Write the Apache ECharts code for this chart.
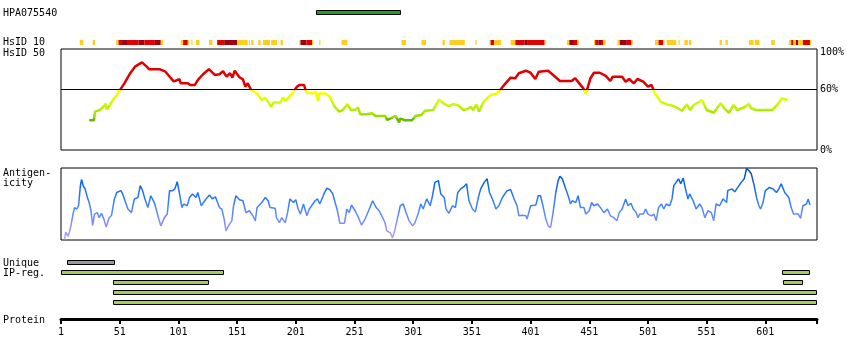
<!DOCTYPE html>
<html><head><meta charset="utf-8">
<script src="https://cdn.jsdelivr.net/npm/echarts@6/dist/echarts.min.js"></script>
<style>html,body{margin:0;padding:0;background:#fff}#c{width:850px;height:360px}</style>
</head><body><div id="c"></div>
<script>
// ---------- data ----------
const antibodyName = 'HPA075540';
const proteinLength = 645;
const proteinTicks = [1,51,101,151,201,251,301,351,401,451,501,551,601];
const percentTicks = [0,60,100];
const hsidThreshold = 60;
const antigenRange = [218, 291];

const hsidRes = [25,29,30,34,38,39,40,45,51,55,60,64,70,74,76,85,90,94,97,102,103,109,111,115,118,122,127,132,136,139,142,145,147,149,153,156,158,160,163,168,172,175,180,182,188,190,192,197,202,204,208,210,216,218,220,221,226,230,234,238,241,245,248,252,254,256,261,266,269,277,279,283,286,289,290,294,300,303,308,311,318,323,327,331,335,339,344,348,350,352,355,357,361,367,372,375,378,384,388,391,397,401,405,408,416,421,426,436,439,442,446,448,452,455,460,465,469,471,479,482,485,489,492,497,501,504,507,512,517,523,530,534,537,540,547,551,557,563,566,570,574,577,583,587,589,593,607,611,615,620];
const hsidVal = [29.4,29.4,38,39.6,44,46,40,49,59,66,76,82.5,86.8,82.5,80,80,77.5,72,68,70,66,66,64.4,64.4,70,75,80,74.3,75,78,72.6,76,71.6,78.5,72,70,62.7,66,59.4,56,49.5,51.8,43,47,47,52,48.5,54.5,62.7,64.4,64.4,57,56,57.8,48.5,56,56,52.8,43,38,39.6,45.5,39.6,40,42.3,35.3,35.3,36.3,33.7,33.7,29.7,32,33.7,27.4,31.4,29.4,29.4,33.7,34.7,38.9,39.6,50,46,43.6,45.2,44.6,39.6,41,42.9,39.6,45,37.9,47.8,54.5,56,59.4,63.7,71.6,71,76,78.5,76.5,70.3,77.5,78.5,73.5,68.3,68.3,71,66.7,61,55.4,71,76.5,76.5,73.3,68.3,72.6,72.6,67.6,70.3,66,70.3,67.6,62.7,64.4,56,47.8,45.2,43.6,38.9,45.2,39.6,44.6,49.5,39.6,36.9,46.2,41.3,36.9,44.6,39.6,42.3,45.5,41.3,39.6,39.6,44.6,51.2,49.5];

const antRes = [4,5,7,8,9.5,11,12.5,14.5,16,17.5,18.5,20,21.5,23.5,25,26.5,28,29.5,32,33.5,35.5,37.5,39.5,42,44,46.5,48.5,52,53.5,55.5,58,61,63.5,66.5,68.5,70.5,72.5,75,77.5,80.5,84,86,89,91.5,93.5,96,98,100,102,104,105.5,108.5,110.5,113,116,117.5,120.5,124.5,127.5,130,132.5,136,138,140,141.5,144.5,146.5,148,150,153,156,158.5,161.5,164.5,166.5,168,172,175,177.5,179,183.5,184.5,187,189,192,194,196,199,201,203,205,207.5,210.5,212.5,214.5,217.5,219.5,221.5,225,227.5,230,232.5,234.5,236.5,238.5,242.5,244.5,246.5,248.5,251.5,254.5,257,260,263,266.5,269.5,272,275,277,278.5,281.5,283.5,285.5,287.5,290,292.5,295,297.5,300.5,302.5,305.5,307.5,309.5,312.5,315.5,317.5,319.5,322.5,324.5,327.5,329,331.5,334.5,337,339,341.5,344.5,346.5,348.5,351.5,354,356.5,358.5,361.5,364,366,368.5,371.5,374,377,381,384,387,389.5,391,394,397,398,401,405.5,407.5,409.5,411.5,414,416,418,420,422.5,424.5,426,428,431,433.5,435,436.5,439.5,441.5,443.5,446.5,448,451,453,455,458,460.5,463.5,466.5,469,472,474.5,476.5,479,482,484,486.5,488.5,491,492.5,494,497,499,501,504,506,508,510,512.5,514.5,516.5,519.5,521.5,523,525,527,529,531,533,535,536.5,539.5,542,545,547,549.5,552,555,557,559,562,565,568,569,572.5,575,577.5,580.5,583,585,587,589,591.5,593.5,595.5,597,599,601,604.5,607.5,610.5,612.5,614.5,617.5,621,623,625,629,631,633,636,637.5,639];
const antVal = [1,11,5,10,20,34,45,43,48,75,84,75,71,59,52,41,20,36,38,31,37,29,18,31,34,57,66,68.5,64,54.5,43,38,57,59,75.5,68.5,57,45,61.5,52,31,19.6,31,36,68.5,68.5,71,81,64,45,50,47.6,59,64,59,66,47.6,57,62.5,57,60,45,43,29,12.6,22,26.6,47.6,61.5,56,54.5,38,40.6,33.6,26.6,45,52,59,54.5,45,44,31,24,31,24,38,57,52,56,43,36,50,33.6,43,47.6,54.5,57,50,64,72,70,64,52,40.6,23.3,23.3,43,38,48.5,40.6,31,20.5,29,40.6,54.5,45,40.6,31,24,12.6,10,3,15,29,47.6,50,38,26.6,19.6,24,38,50,43,57,47.6,61.5,80,82.5,64,59,43,37,47.6,45,66,71,74.6,78,54.5,43,39,59,71,80,85,66,57,43,47.6,59,68.5,70,57,47.6,33.6,34.5,33.6,29,47.6,48.5,61.5,61.5,47.6,29,19.6,17.2,36,66,82.5,88.6,85,71,59,50,54.5,52,61.5,45,45,36,40.6,52,47.6,50,45,38,43,33.6,31,26.6,38,43,57,47.6,51,43,38,31,36,36,43,36,33.6,36,26.6,45,50,43,50,47.6,57,75.5,80,85,78,86,71,57,64,54.5,43,50,45,31,40.6,38,26.6,50,47.6,57,52,68.5,71,67,73,80,85,99,96.5,92,75.5,59,47.6,43,52,68.5,73,71,66,71,78,66,59,45,36,36,30,47.6,50,57,48.5];

// HsID 10 cells: level 1 = yellow, 2 = red, 3 = dark red
const cellStart = [17,28,48,50,53,58,67,72,81,86,103,105,109,112,116,127,134,140,151,156,161,163,169,173,180,188,204,205,210,215,221,240,291,308,326,332,354,366,367,370,384,388,396,398,413,432,434,438,441,455,456,459,461,463,475,477,483,487,507,510,514,517,527,532,536,562,567,587,592,606,621,623,625,627,629,633,639];
const cellEnd   = [20,30,50,53,58,67,72,81,86,88,105,109,110,113,119,130,140,151,156,160,162,165,171,179,185,190,205,210,215,216,222,245,295,312,328,345,355,367,370,376,388,396,398,413,414,434,438,441,442,456,459,461,463,465,477,483,487,488,510,514,515,525,528,535,538,564,569,591,596,609,623,625,627,629,633,639,640];
const cellLevel = [1,1,1,2,3,2,3,2,3,1,1,2,1,1,1,1,2,3,1,1,1,1,1,1,1,1,1,3,2,1,1,1,1,1,1,1,1,1,2,1,1,2,3,2,1,1,3,2,1,1,2,3,2,1,1,3,2,1,1,2,1,1,1,1,1,1,1,1,1,1,1,2,1,3,1,2,1];

// Region bars: row 0 = Unique, rows 1.. = IP-reg.
const barRow   = [0,1,1,2,2,3,4];
const barStart = [6,1,615,45,616,45,45];
const barEnd   = [47,140,639,127,633,645,645];
const barKind  = ['unique','ip','ip','ip','ip','ip','ip'];

// ---------- chart ----------
const FONT = '"DejaVu Sans Mono", "Liberation Mono", monospace';
const L = 61, W = 756;
const chart = echarts.init(document.getElementById('c'), null, {renderer:'canvas'});

function xa(i, show){
  return {gridIndex:i, type:'value', min:1, max:proteinLength, show:!!show};
}
function rectItem(fillFn, stroke){
  return function(params, api){
    const p0 = api.coord([api.value(0), api.value(2)]);
    const p1 = api.coord([api.value(1), api.value(3)]);
    const fill = fillFn(api.value(4));
    if (stroke) {
      const x = Math.round(p0[0]) + 0.5, y = Math.round(p0[1]) + 0.5;
      return {type:'rect', shape:{x:x, y:y, width:Math.round(p1[0]) - Math.round(p0[0]) - 1, height:Math.round(p1[1]) - Math.round(p0[1]) - 1},
        style:{fill:fill, stroke:'#000', lineWidth:1}};
    }
    return {type:'rect', shape:{x:p0[0], y:p0[1], width:p1[0]-p0[0], height:p1[1]-p0[1]}, style:{fill:fill}};
  };
}
const cellColors = {1:'#ffcc22', 2:'#e00000', 3:'#a00010'};

const labels = [
  ['HPA075540', 13], ['HsID 10', 42.5], ['HsID 50', 53], ['Antigen-', 173], ['icity', 183.5],
  ['Unique', 263], ['IP-reg.', 273], ['Protein', 320]
];

const option = {
  animation:false,
  backgroundColor:'#fff',
  grid:[
    {left:L, width:W, top:10, height:5},
    {left:L, width:W, top:40, height:5},
    {left:L, width:W, top:49, height:101, show:true, borderColor:'#000', borderWidth:1, backgroundColor:'transparent'},
    {left:L, width:W, top:168, height:72, show:true, borderColor:'#000', borderWidth:1, backgroundColor:'transparent'},
    {left:L, width:W, top:260, height:45},
    {left:L, width:W, top:300, height:19}
  ],
  xAxis:[
    xa(0), xa(1), xa(2), xa(3), xa(4),
    {gridIndex:5, type:'value', min:1, max:proteinLength, position:'bottom',
      axisLine:{show:true, lineStyle:{color:'#000', width:3}},
      axisTick:{show:true, customValues:proteinTicks.concat([proteinLength]), length:5, lineStyle:{color:'#000', width:2}},
      axisLabel:{show:true, customValues:proteinTicks, color:'#000', fontFamily:FONT, fontSize:10, margin:8},
      splitLine:{show:false}}
  ],
  yAxis:[
    {gridIndex:0, type:'value', min:0, max:1, inverse:true, show:false},
    {gridIndex:1, type:'value', min:0, max:1, inverse:true, show:false},
    {gridIndex:2, type:'value', min:0, max:100, position:'right',
      axisLine:{show:false}, axisTick:{show:false}, splitLine:{show:false},
      axisLabel:{show:true, customValues:percentTicks, color:'#000', fontFamily:FONT, fontSize:10, margin:3,
        formatter:function(v){ return v === 100 ? '{d|' + v + '%}' : v + '%'; },
        rich:{d:{fontFamily:FONT, fontSize:10, color:'#000', padding:[6,0,0,0]}}}},
    {gridIndex:3, type:'value', min:0, max:100, show:false},
    {gridIndex:4, type:'value', min:0, max:9, inverse:true, show:false},
    {gridIndex:5, type:'value', min:0, max:1, show:false}
  ],
  visualMap:[
    {type:'piecewise', show:false, seriesIndex:2, dimension:1, pieces:[
      {gte:hsidThreshold, color:'#e00000'},
      {gte:56, lt:60, color:'#ffff00'},
      {gte:52, lt:56, color:'#f0ff00'},
      {gte:48, lt:52, color:'#dcff00'},
      {gte:44, lt:48, color:'#ccf800'},
      {gte:40, lt:44, color:'#bbf000'},
      {gte:36, lt:40, color:'#aae800'},
      {gte:32, lt:36, color:'#99dd00'},
      {lt:32, color:'#66bb00'}
    ]},
    {type:'continuous', show:false, seriesIndex:3, dimension:1, min:0, max:100,
      inRange:{color:['#b4a8f4','#8c8cff','#5088ff','#2a76f8','#0a64e6','#004a9e']}}
  ],
  series:[
    {type:'custom', xAxisIndex:0, yAxisIndex:0, silent:true,
      renderItem: rectItem(function(){return '#1fa01f';}, true),
      data:[[antigenRange[0], antigenRange[1], 0, 1, 0]]},
    {type:'custom', xAxisIndex:1, yAxisIndex:1, silent:true,
      renderItem: rectItem(function(l){return cellColors[l];}, false),
      data: cellStart.map((s,i)=>[s, cellEnd[i], 0, 1, cellLevel[i]])},
    {type:'line', xAxisIndex:2, yAxisIndex:2, showSymbol:false, silent:true,
      lineStyle:{width:2.5},
      data: hsidRes.map((r,i)=>[r, hsidVal[i]]),
      markLine:{silent:true, symbol:'none', label:{show:false},
        lineStyle:{color:'#000', width:1, type:'solid'},
        data:[{yAxis:hsidThreshold}]}},
    {type:'line', xAxisIndex:3, yAxisIndex:3, showSymbol:false, silent:true,
      lineStyle:{width:1.5},
      data: antRes.map((r,i)=>[r, antVal[i]])},
    {type:'custom', xAxisIndex:4, yAxisIndex:4, silent:true,
      renderItem: rectItem(function(k){return k === 'unique' ? '#999999' : '#a4cc5c';}, true),
      data: barStart.map((s,i)=>[s, barEnd[i], barRow[i]*2, barRow[i]*2+1, barKind[i]])}
  ],
  graphic: labels.map(function(t){
    return {type:'text', x:3, y:t[1], silent:true,
      style:{text: t[0] === 'HPA075540' ? antibodyName : t[0], fill:'#000', fontFamily:FONT, fontSize:10, verticalAlign:'middle', align:'left'}};
  })
};
chart.setOption(option);
</script>
</body></html>
